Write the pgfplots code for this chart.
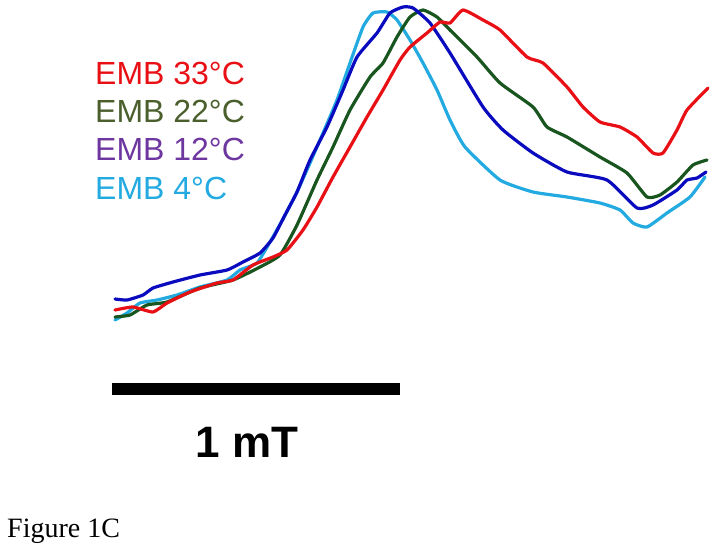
\documentclass[border=0pt]{standalone}
\usepackage{fontspec}
\setmainfont{Liberation Serif}
\newfontfamily\arial{Liberation Sans}
\usepackage{pgfplots}
\pgfplotsset{compat=1.18}
\definecolor{cred}{RGB}{232,16,20}
\definecolor{cgreen}{RGB}{25,85,30}
\definecolor{cgreentxt}{RGB}{75,95,45}
\definecolor{cblue}{RGB}{10,10,190}
\definecolor{cpurple}{RGB}{110,55,160}
\definecolor{clight}{RGB}{35,170,225}
\begin{document}
\begin{tikzpicture}
\begin{axis}[scale only axis, width=714pt, height=549pt,
  xmin=0, xmax=714, ymin=0, ymax=549, y dir=reverse,
  hide axis, clip=false,
  every axis plot/.append style={line width=3.2pt, line join=round, line cap=round}]
\path (axis cs:0,0) rectangle (axis cs:714,549);
% 4C light blue
\addplot[clight, smooth, tension=0.3] coordinates {
(115,320)(127,313)(140,303)(157,300)(177,295)(200,287)(227,280)(240,270)(257,263)(270,242)(283,219)(297,192)(310,163)(323,133)(337,100)(350,63)(363,27)(373,13)(387,12)(397,20)(410,40)(423,63)(437,90)(450,120)(465,147)(500,180)(533,192)(567,197)(600,203)(620,210)(633,223)(647,227)(667,213)(690,197)(705,177)};
% 22C green
\addplot[cgreen, smooth, tension=0.3] coordinates {
(115,317)(130,315)(147,305)(167,302)(200,288)(233,280)(260,267)(280,255)(297,225)(317,180)(333,147)(350,110)(370,77)(383,63)(397,37)(410,17)(423,10)(437,17)(450,30)(477,57)(500,83)(533,107)(547,127)(567,137)(600,157)(627,173)(647,197)(660,195)(677,182)(693,165)(707,160)};
% 12C blue
\addplot[cblue, smooth, tension=0.3] coordinates {
(115,299)(127,300)(143,295)(153,288)(173,282)(200,275)(227,270)(243,262)(260,253)(273,238)(285,215)(297,192)(310,160)(327,127)(343,90)(357,57)(377,33)(390,13)(403,7)(413,8)(430,23)(450,53)(483,107)(503,130)(533,153)(567,172)(607,180)(637,208)(653,205)(677,190)(687,180)(697,178)(706,172)};
% 33C red
\addplot[cred, smooth, tension=0.3] coordinates {
(115,310)(133,307)(153,312)(167,303)(190,292)(217,283)(233,280)(253,265)(273,257)(287,250)(303,230)(317,207)(333,177)(350,147)(367,117)(383,90)(400,60)(410,47)(427,33)(440,22)(450,23)(463,10)(483,20)(500,30)(527,57)(543,63)(567,87)(583,107)(600,122)(620,127)(637,137)(653,153)(663,153)(677,130)(687,110)(708,88)};
% scale bar
\addplot[black, line width=12pt, line cap=butt] coordinates {(112,388.5)(400,388.5)};
\node[anchor=base west, text=cred, inner sep=0pt, font=\arial\fontsize{32}{32}\selectfont] at (axis cs:95,84) {EMB 33°C};
\node[anchor=base west, text=cgreentxt, inner sep=0pt, font=\arial\fontsize{32}{32}\selectfont] at (axis cs:95,122) {EMB 22°C};
\node[anchor=base west, text=cpurple, inner sep=0pt, font=\arial\fontsize{32}{32}\selectfont] at (axis cs:95,160) {EMB 12°C};
\node[anchor=base west, text=clight, inner sep=0pt, font=\arial\fontsize{32}{32}\selectfont] at (axis cs:95,199) {EMB 4°C};
\node[anchor=base, inner sep=0pt, font=\arial\bfseries\fontsize{44}{44}\selectfont] at (axis cs:247,457) {1 mT};
\node[anchor=base west, inner sep=0pt, font=\fontsize{28}{28}\selectfont] at (axis cs:7,537) {Figure 1C};
\end{axis}
\end{tikzpicture}
\end{document}
